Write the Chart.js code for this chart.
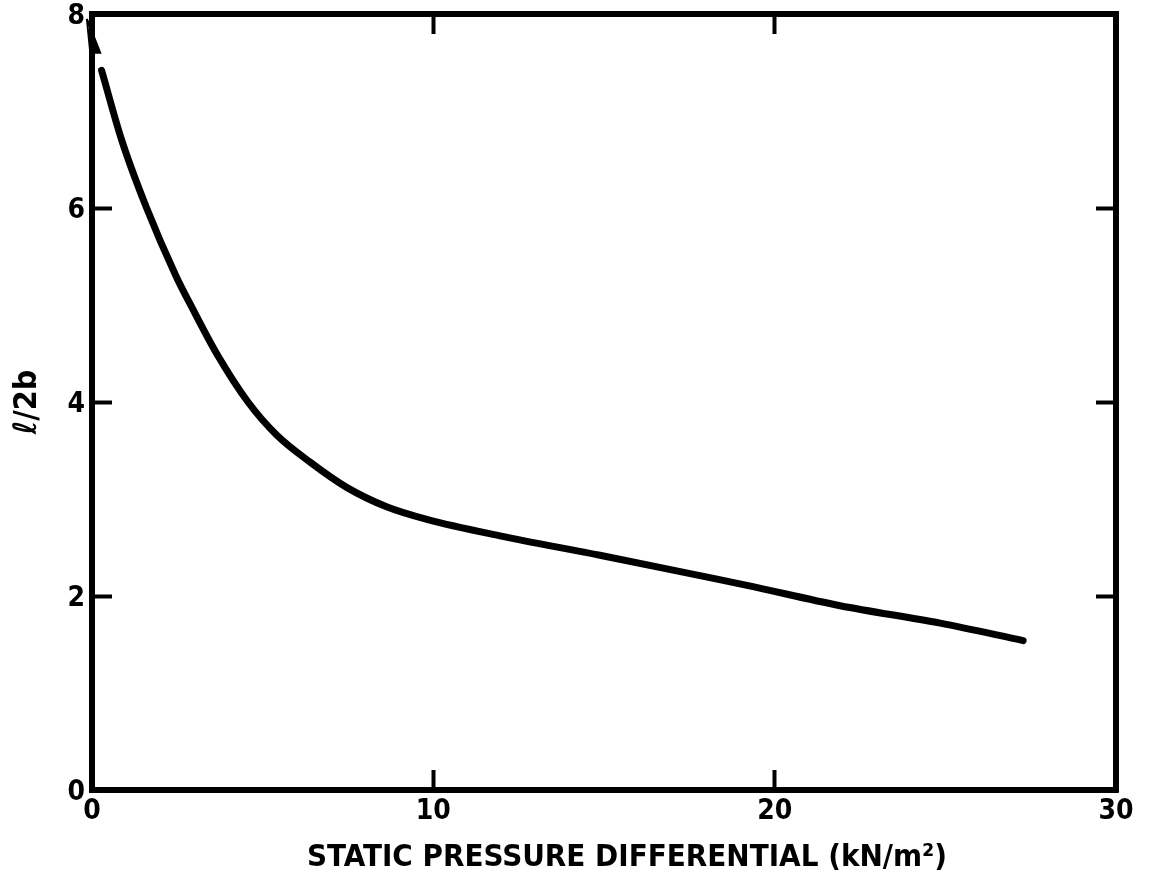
<!DOCTYPE html>
<html>
<head>
<meta charset="utf-8">
<title>l/2b vs static pressure differential</title>
<script src="https://cdn.jsdelivr.net/npm/chart.js@4.4.1/dist/chart.umd.min.js"></script>
<style>
  html, body { margin: 0; padding: 0; background: #fff; }
  #wrap { width: 1150px; height: 883px; }
</style>
</head>
<body>
<div id="wrap"><canvas id="grafico" width="1150" height="883"></canvas></div>
<script>
// curva l/2b frente a la diferencia de presión estática
const presion = [0.28, 0.87, 1.60, 2.46, 2.92, 3.65, 4.57, 5.41, 6.39, 7.46, 8.63, 9.81, 11.95, 14.88, 17.81, 19.19, 21.92, 24.85, 27.28];
const relacion = [7.42, 6.70, 6.00, 5.30, 4.98, 4.50, 4.00, 3.66, 3.38, 3.12, 2.92, 2.79, 2.62, 2.42, 2.21, 2.11, 1.90, 1.72, 1.54];

// punta de flecha junto al eje (la curva sigue hacia arriba)
const flechaX = [-0.15, 0.24, -0.05, -0.15];
const flechaY = [7.95, 7.6, 7.6, 7.95];

// marcas de los ejes
const ticksX = [0, 10, 20, 30];
const ticksY = [0, 2, 4, 6, 8];

const tituloX = 'STATIC PRESSURE DIFFERENTIAL (kN/m\u00B2)';
const tituloY = '\u2113/2b';

const fuente = "'DejaVu Sans Condensed', 'DejaVu Sans', sans-serif";
const fuenteTitulo = "'Liberation Sans Narrow', 'DejaVu Sans Condensed', sans-serif";

const puntos = presion.map((x, i) => ({ x: x, y: relacion[i] }));
const flecha = flechaX.map((x, i) => ({ x: x, y: flechaY[i] }));

// sin márgenes extra por las etiquetas: el área la fija layout.padding
function sinMargen(s) {
    s.paddingTop = 0; s.paddingBottom = 0; s.paddingLeft = 0; s.paddingRight = 0;
}

// eje secundario: solo borde y marcas hacia dentro
function ejeEspejo(pos, max, paso) {
    return {
        type: 'linear', position: pos, min: 0, max: max,
        ticks: { stepSize: paso, display: false },
        grid: { drawOnChartArea: false, drawTicks: true, tickLength: -20, tickWidth: 4, color: '#000' },
        border: { display: true, width: 6, color: '#000' },
        afterFit: s => { if (pos === 'top') s.height = 0; else s.width = 0; sinMargen(s); }
    };
}

// título del eje x, algo desplazado a la derecha del centro
const tituloEjeX = {
    id: 'tituloEjeX',
    afterDraw(chart) {
        const area = chart.chartArea;
        const c = chart.ctx;
        c.save();
        c.fillStyle = '#000';
        c.font = "bold 31px " + fuenteTitulo;
        c.textAlign = 'center';
        c.textBaseline = 'middle';
        c.fillText(tituloX, (area.left + area.right) / 2 + 23, 858);
        c.restore();
    }
};

const ctx = document.getElementById('grafico').getContext('2d');
new Chart(ctx, {
    type: 'scatter',
    data: {
        datasets: [{
            data: puntos,
            showLine: true,
            borderColor: '#000',
            borderWidth: 7,
            borderCapStyle: 'round',
            pointRadius: 0,
            cubicInterpolationMode: 'monotone',
            clip: false
        }, {
            data: flecha,
            showLine: true,
            borderColor: '#000',
            backgroundColor: '#000',
            borderWidth: 2,
            pointRadius: 0,
            fill: 'shape',
            clip: false
        }]
    },
    options: {
        responsive: false,
        animation: false,
        layout: { padding: { left: 0, top: 14, right: 34, bottom: 0 } },
        plugins: { legend: { display: false }, tooltip: { enabled: false } },
        scales: {
            x: {
                type: 'linear', min: 0, max: 30,
                afterBuildTicks: s => { s.ticks = ticksX.map(v => ({ value: v })); },
                afterFit: s => { s.height = 93; sinMargen(s); },
                ticks: { padding: 25, color: '#000', font: { family: fuente, size: 28, weight: 'bold' } },
                grid: { drawOnChartArea: false, drawTicks: true, tickLength: -20, tickWidth: 4, color: '#000' },
                border: { display: true, width: 6, color: '#000' },
                title: { display: false }
            },
            y: {
                type: 'linear', min: 0, max: 8,
                afterBuildTicks: s => { s.ticks = ticksY.map(v => ({ value: v })); },
                afterFit: s => { s.width = 92; sinMargen(s); },
                ticks: { padding: 27, labelOffset: 3, color: '#000', font: { family: fuente, size: 28, weight: 'bold' } },
                grid: { drawOnChartArea: false, drawTicks: true, tickLength: -20, tickWidth: 4, color: '#000' },
                border: { display: true, width: 6, color: '#000' },
                title: {
                    display: true, text: tituloY, color: '#000',
                    font: { family: fuente, size: 32, weight: 'bold' },
                    padding: { top: 8, bottom: 0 }
                }
            },
            x2: ejeEspejo('top', 30, 10),
            y2: ejeEspejo('right', 8, 2)
        }
    },
    plugins: [tituloEjeX]
});
</script>
</body>
</html>
